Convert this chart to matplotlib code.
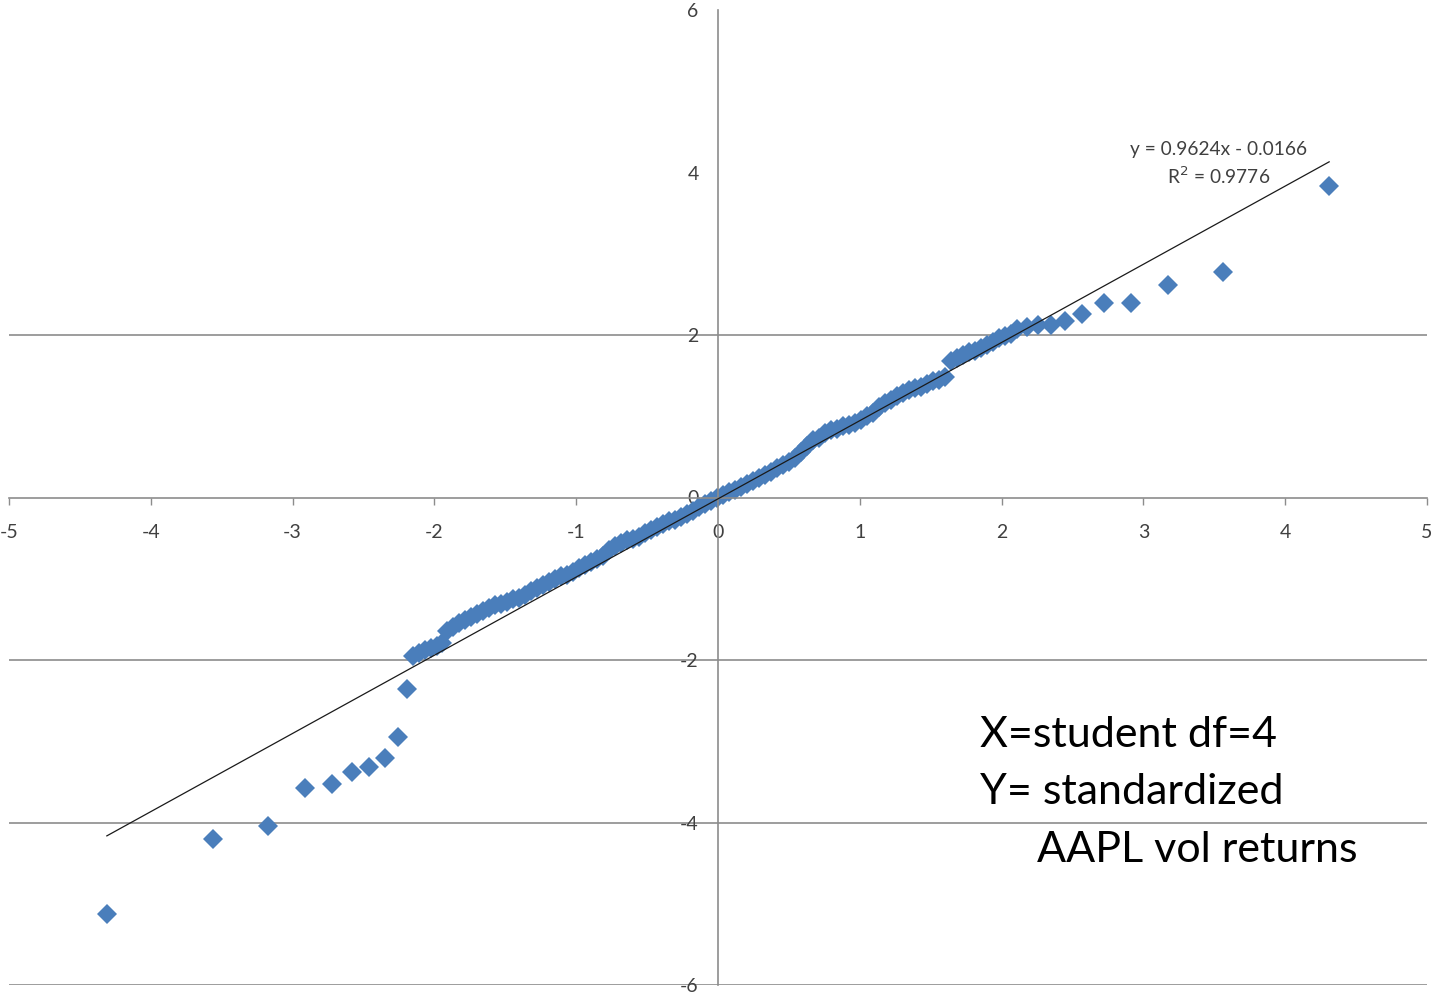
import matplotlib
matplotlib.use("Agg")
import matplotlib.pyplot as plt
import numpy as np

# theoretical quantiles (student t, df=4) vs standardized AAPL vol returns
x_quant = [
    -4.31, -3.56, -3.17, -2.91, -2.72, -2.58, -2.46, -2.35, -2.26, -2.19,
    -2.152, -2.110, -2.068, -2.025, -1.983, -1.948,
    -1.912, -1.870, -1.828, -1.785, -1.743, -1.701, -1.658, -1.616, -1.574, -1.531,
    -1.489, -1.447, -1.404, -1.362, -1.320, -1.277, -1.235, -1.193, -1.150, -1.108,
    -1.066, -1.023, -0.981, -0.939, -0.896, -0.854, -0.812, -0.769, -0.727, -0.685,
    -0.642, -0.600, -0.558, -0.515, -0.473, -0.430, -0.388, -0.346, -0.303, -0.261,
    -0.219, -0.176, -0.134, -0.092, -0.049, -0.007, 0.035, 0.078, 0.120, 0.162,
    0.205, 0.247, 0.289, 0.332, 0.374, 0.416, 0.459, 0.501, 0.543, 0.586,
    0.628, 0.670, 0.713, 0.755, 0.797, 0.840, 0.882, 0.924, 0.967, 1.009,
    1.052, 1.094, 1.136, 1.179, 1.221, 1.263, 1.306, 1.348, 1.390, 1.433,
    1.475, 1.517, 1.560, 1.602,
    1.644, 1.687, 1.729, 1.771, 1.814, 1.856, 1.898, 1.941, 1.983, 2.025, 2.068,
    2.11, 2.18, 2.26, 2.35, 2.45, 2.57, 2.72, 2.91, 3.17, 3.56, 4.31,
]
y_ret = [
    -5.12, -4.20, -4.04, -3.58, -3.52, -3.38, -3.32, -3.20, -2.95, -2.36,
    -1.945, -1.908, -1.883, -1.858, -1.822, -1.785,
    -1.637, -1.588, -1.539, -1.502, -1.465, -1.428, -1.391, -1.354, -1.329, -1.305,
    -1.280, -1.255, -1.231, -1.194, -1.145, -1.108, -1.071, -1.046, -1.009, -0.972,
    -0.948, -0.911, -0.862, -0.825, -0.788, -0.751, -0.714, -0.652, -0.591, -0.554,
    -0.529, -0.505, -0.480, -0.443, -0.406, -0.369, -0.332, -0.295, -0.271, -0.234,
    -0.197, -0.160, -0.123, -0.086, -0.049, -0.012, 0.025, 0.062, 0.098, 0.135,
    0.172, 0.209, 0.246, 0.283, 0.320, 0.357, 0.394, 0.443, 0.492, 0.566,
    0.640, 0.702, 0.738, 0.788, 0.825, 0.849, 0.874, 0.898, 0.923, 0.960,
    1.009, 1.046, 1.108, 1.157, 1.206, 1.255, 1.292, 1.317, 1.342, 1.366,
    1.391, 1.428, 1.452, 1.477,
    1.674, 1.723, 1.760, 1.785, 1.809, 1.846, 1.883, 1.920, 1.957, 1.982, 2.018,
    2.07, 2.10, 2.12, 2.12, 2.17, 2.26, 2.39, 2.39, 2.62, 2.78, 3.83,
]

# linear trendline reported on the chart
slope = 0.9624
intercept = -0.0166
r_squared = 0.9776

x_ticks = [-5, -4, -3, -2, -1, 0, 1, 2, 3, 4, 5]
y_ticks = [-6, -4, -2, 0, 2, 4, 6]
grid_levels = [-6, -4, -2, 2]

matplotlib.rc('font', family='Lato')

fig = plt.figure(figsize=(14.35, 10), dpi=100)
ax = fig.add_axes([9 / 1435, 0.015, 1418 / 1435, 0.975])

for g in grid_levels:
    ax.axhline(g, color='#8c8c8c', linewidth=1.2, zorder=0)

ax.plot(x_quant, y_ret, linestyle='none', marker='D', markersize=10.6,
        markeredgewidth=0, color='#4a7ebb', zorder=2)

xl = np.array([min(x_quant), max(x_quant)])
ax.plot(xl, slope * xl + intercept, color='#1a1a1a', linewidth=0.9, zorder=3)

ax.text(3.53, 4.28, "y = {:.4f}x - {:.4f}".format(slope, -intercept),
        ha='center', va='center', fontsize=13.8, color='#404040')
ax.text(3.53, 3.96, "R$^2$ = {:.4f}".format(r_squared),
        ha='center', va='center', fontsize=13.8, color='#404040')

ax.set_xlim(-5, 5)
ax.set_ylim(-6, 6)
for s in ['top', 'right']:
    ax.spines[s].set_visible(False)
ax.spines['left'].set_position('zero')
ax.spines['bottom'].set_position('zero')
for s in ['left', 'bottom']:
    ax.spines[s].set_color('#8c8c8c')
    ax.spines[s].set_linewidth(1.2)
ax.set_xticks(x_ticks)
ax.set_yticks(y_ticks)
ax.set_xticklabels([str(v) for v in x_ticks])
ax.set_yticklabels([str(v) for v in y_ticks])
ax.tick_params(axis='x', direction='out', length=5, width=1.0, color='#8c8c8c',
               pad=14, labelsize=14, labelcolor='#404040')
ax.tick_params(axis='y', length=0, pad=14, labelsize=14, labelcolor='#404040')
ax.patch.set_alpha(0)

fig.text(980 / 1435, 0.253, "X=student df=4", fontsize=31, ha='left', va='baseline')
fig.text(980 / 1435, 0.196, "Y= standardized", fontsize=31, ha='left', va='baseline')
fig.text(1037 / 1435, 0.138, "AAPL vol returns", fontsize=31, ha='left', va='baseline')

fig.savefig("out.png", dpi=100)
